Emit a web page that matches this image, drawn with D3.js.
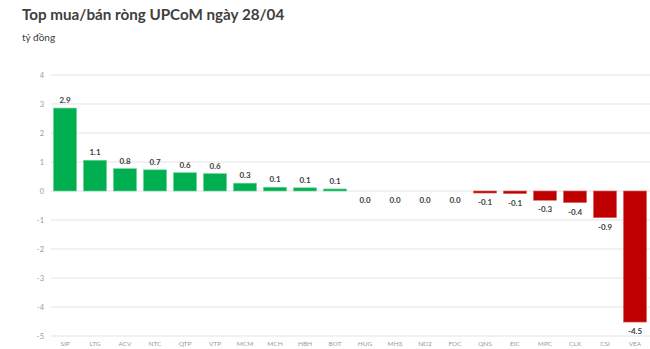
<!DOCTYPE html>
<html lang="vi">
<head>
<meta charset="utf-8">
<title>Top mua/bán ròng UPCoM</title>
<script src="https://cdn.jsdelivr.net/npm/d3@7"></script>
<style>
  body { margin: 0; background: #fff; }
  text { font-family: Lato, "Open Sans", sans-serif; }
</style>
</head>
<body>
<script>
var tickers = ["SIP", "LTG", "ACV", "NTC", "QTP", "VTP", "MCM", "MCH", "HBH", "BOT",
               "HUG", "MH3", "ND2", "FOC", "QNS", "EIC", "MPC", "CLX", "CSI", "VEA"];
var netValues = [2.86, 1.06, 0.77, 0.73, 0.63, 0.6, 0.27, 0.13, 0.11, 0.07,
                 0, 0, 0, 0, -0.07, -0.09, -0.32, -0.4, -0.92, -4.52];
var yTicks = [4, 3, 2, 1, 0, -1, -2, -3, -4, -5];

var w = 650, h = 349;
var svg = d3.select("body").append("svg")
  .attr("width", w)
  .attr("height", h);

var x = d3.scaleBand().domain(tickers).range([50, 650]).paddingInner(0.23).paddingOuter(0.115);
var y = d3.scaleLinear().domain([-5, 4]).range([336, 75]);

svg.append("text")
  .attr("x", 22).attr("y", 20)
  .attr("font-size", 15.2).attr("font-weight", "bold")
  .attr("fill", "#404040")
  .text("Top mua/bán ròng UPCoM ngày 28/04");

svg.append("text")
  .attr("x", 22).attr("y", 41)
  .attr("font-size", 10)
  .attr("fill", "#404040")
  .text("tỷ đồng");

// grid + y labels
svg.selectAll("line.grid").data(yTicks)
  .enter().append("line")
  .attr("class", "grid")
  .attr("x1", 51).attr("x2", 650)
  .attr("y1", function(d) { return y(d); })
  .attr("y2", function(d) { return y(d); })
  .attr("stroke", "#e3e3e3")
  .attr("stroke-width", 1);

svg.selectAll("text.ytick").data(yTicks)
  .enter().append("text")
  .attr("class", "ytick")
  .attr("x", 44)
  .attr("y", function(d) { return y(d) + 2.5; })
  .attr("text-anchor", "end")
  .attr("font-size", 7.5)
  .attr("fill", "#9a9a9a")
  .text(function(d) { return d; });

// bars
svg.selectAll("rect.bar").data(netValues)
  .enter().append("rect")
  .attr("class", "bar")
  .attr("x", function(d, i) { return x(tickers[i]); })
  .attr("width", x.bandwidth())
  .attr("y", function(d) { return d >= 0 ? y(d) : y(0); })
  .attr("height", function(d) { return Math.abs(y(d) - y(0)); })
  .attr("fill", function(d) { return d >= 0 ? "#00b050" : "#c00000"; })
  .attr("stroke", function(d) { return d === 0 ? "none" : (d > 0 ? "#6fd39a" : "#d96666"); })
  .attr("stroke-width", 0.6);

// value labels
svg.selectAll("text.val").data(netValues)
  .enter().append("text")
  .attr("class", "val")
  .attr("x", function(d, i) { return x(tickers[i]) + x.bandwidth() / 2; })
  .attr("y", function(d) { return d > 0 ? y(d) - 5 : y(d) + 12; })
  .attr("text-anchor", "middle")
  .attr("font-size", 8)
  .attr("font-weight", "bold")
  .attr("fill", "#404040")
  .text(function(d) { return d3.format(".1f")(d).replace("−", "-"); });

// category labels
svg.selectAll("text.cat").data(tickers)
  .enter().append("text")
  .attr("class", "cat")
  .attr("x", function(d) { return x(d) + x.bandwidth() / 2; })
  .attr("y", 346)
  .attr("text-anchor", "middle")
  .attr("font-size", 6.5)
  .attr("fill", "#9a9a9a")
  .text(function(d) { return d; });
</script>
</body>
</html>
